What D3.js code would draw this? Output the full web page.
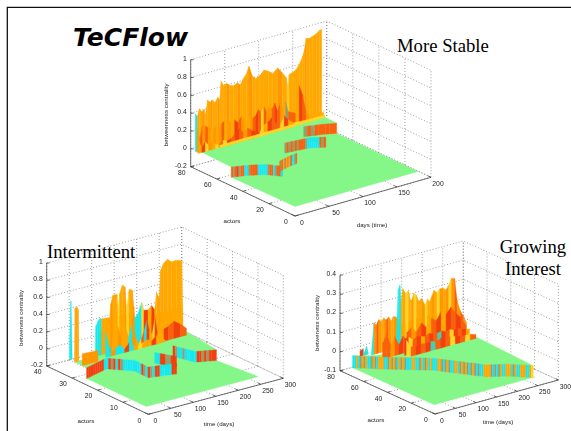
<!DOCTYPE html>
<html><head><meta charset="utf-8">
<script src="https://cdnjs.cloudflare.com/ajax/libs/d3/7.8.5/d3.min.js"></script>
<style>html,body{margin:0;padding:0;background:#fff}svg{display:block}</style></head>
<body><svg id="c" width="571" height="431"></svg>
<script>
// ---------- colour classes ----------
const palette = {O:'#ffa800',o:'#ff9800',R:'#f9620c',r:'#f2400e',C:'#16e8ee',Y:'#ffd626',G:'#84f788',M:'#93a06c',T:'#48cdb0'};

// ---------- tick labels ----------
const zTicksA = [-0.2,0,0.2,0.4,0.6,0.8,1];
const zTicksB = [-0.1,0,0.1,0.2,0.3,0.4];
const actorTicks80 = [0,20,40,60,80];
const actorTicks40 = [0,10,20,30,40];
const dayTicks200 = [0,50,100,150,200];
const dayTicks300 = [0,50,100,150,200,250,300];

// ---------- top panel (More Stable) ----------
const p1WallDays = [0,3,6,10,13,15,18,22,25,29,33,36,38,42,46,50,56,62,66,70,75,79,84,89,95,101,108,114,121,128,134,136,138,143,148,153,158,161,163,168,172,178,183,186];
const p1WallPeak = [.42,.38,.46,.42,.44,.38,.53,.50,.52,.48,.53,.50,.70,.64,.66,.63,.61,.63,.60,.65,.70,.78,.66,.62,.64,.69,.66,.62,.67,.60,.53,.42,.56,.57,.59,.64,.72,.80,.91,.90,.91,.93,.96,.96];
const p1WallCode = 'COOoOOOoOOoOOOoOOoOOOoOOOOOOoOOYOOOOOoOOOOOO';
const p1MidDays = [0,4,8,12,16,20,24,28,32,36,40,45,50,55,60,65,70,74,78,82,86,90,94,98,102,106,110,114,118,122,126,130,134,145,150,155,160,165,172,186];
const p1MidPeak = [.26,.14,.28,.26,.24,.22,.20,.22,.18,.24,.26,.25,.22,.24,.20,.26,.18,.20,.24,.20,.22,.28,.24,.30,.22,.28,.24,.30,.20,.28,.22,.28,.16,.12,.42,.30,.10,.06,.05,.04];
const p1MidCode = 'oRoRoOoOoROoOrRoOOoRrRYRooRrRoOMROrRoOOO';
const p1LowDays = [0,5,10,15,20,25,30,36,42,48,54,60,66,72,78,84,90,96,102,108,114,120,126,132,140,160,186];
const p1LowPeak = [.14,.04,.10,.05,.08,.04,.02,.06,.04,.05,.10,.14,.08,.12,.08,.05,.03,.10,.12,.16,.08,.04,.14,.08,.03,.02,.02];
const p1LowCode = 'OrYoOYRYrRrRoRrrYOrRRYrOYY';
const p1SkirtDays = [30,140];
const p1SkirtPeak = [.02,.02];
const p1SkirtCode = 'Y';
const p1StairADays = [2,23,38,51];
const p1StairAActors = [50,46.5,42.8,36];
const p1StairACode = 'RMRrMRRCCMRRRRCCCCCMRRCMRRC';
const p1StairBDays = [58,75,89];
const p1StairBActors = [42,44,45];
const p1StairBCode = 'RMROMROROMRCCMR';
const p1StairCDays = [98,131,147];
const p1StairCActors = [59,57,53];
const p1StairCCode = 'MRMRMRMRRRMCCCCCCRMR';
const p1StairDDays = [147,169,184];
const p1StairDActors = [70,67,64];
const p1StairDCode = 'MRMRRRRRR';
const p1BackDays = [185,4];
const p1BackActors = [75,75];

// ---------- lower-left panel (Intermittent) ----------
const p2SpikeDays = [0,3,6];
const p2SpikePeak = [.20,.68,0];
const p2SpikeCode = 'CC';
const p2FillDays = [56,80,100,125,134,150,170,190,240];
const p2FillPeak = [.25,.40,.40,.38,.25,.28,.30,.30,.30];
const p2FillCode = 'OOOOOoOO';
const p2WallDays = [0,1,6,8,9,45,47,51,56,60,78,80,85,94,96,100,106,112,115,121,128,134,141,149,154,163,171,178,182,188,191,197,206,215,226,238,241];
const p2WallPeak = [0,.63,.63,.60,0,0,.35,.40,.43,.42,.41,.56,.66,.66,.47,.66,.75,.72,.45,.68,.66,.33,.37,.49,.39,.38,.42,.36,.56,.48,.80,.87,.91,.87,.87,.85,.02];
const p2WallCode = 'oOOoGGCCCOOoOOYOOoYOoCCYrOrOOoOOOOOOO';
const p2MidDays = [60,68,74,80,88,96,104,112,120,128,134,140,146,152,158,164,170,176,182,190,200,212,226,240];
const p2MidPeak = [.30,.10,.08,.38,.30,.14,.28,.16,.30,.12,.04,.10,.18,.30,.16,.12,.30,.10,.22,.14,.16,.20,.15,.08];
const p2MidCode = 'CTOOoOOCoOYRCrOYrOOrRrR';
const p2LowDays = [60,70,80,90,100,110,120,130,140,150,160,170,180,190];
const p2LowPeak = [.06,.04,.08,.10,.04,.10,.06,.03,.06,.08,.05,.10,.06,.02];
const p2LowCode = 'CoCCrCOYOOrOO';
const p2PlateauDays = [0,35];
const p2PlateauPeak = [.14,.13];
const p2PlateauCode = 'o';
const p2StairADays = [0,57,91,90,142];
const p2StairAActors = [24.3,26.6,21.4,16,14];
const p2StairACode = 'rrrrrrrrCCrMrCrMCCCCCCCCrMCrMCrrCCCCCrr';
const p2StairBDays = [143,162];
const p2StairBActors = [22.8,17.6];
const p2StairBCode = 'CrMr';
const p2StairCDays = [189,203,239];
const p2StairCActors = [23.8,17.6,15.5];
const p2StairCCode = 'rMCCMCCCCCrrMrMrrr';
const p2BackDays = [250,1];
const p2BackActors = [29,29];

// ---------- lower-right panel (Growing Interest) ----------
const p3FillDays = [84,120,160,200,240];
const p3FillPeak = [.14,.15,.15,.15,.06];
const p3FillCode = 'oooo';
const p3BackMtnDays = [78,84,88,91,95,102,109,113,117,122,128,134,141,149,155,160,166,171,178,185,193,200,207,213,221,227,235,243,250];
const p3BackMtnPeak = [.02,.33,.352,.26,.33,.30,.314,.26,.257,.29,.276,.24,.251,.212,.24,.222,.25,.276,.26,.275,.273,.26,.282,.313,.308,.191,.13,.095,.06];
const p3BackMtnCode = 'CCCOOYOOoYOOoYOOoOYoOoYoRoRo';
const p3LeftMtnDays = [36,42,48,54,60,66,72,78,84,90,99,107];
const p3LeftMtnPeak = [.01,.165,.15,.175,.16,.177,.16,.175,.15,.17,.158,.12];
const p3LeftMtnCode = 'CoRoOoRoOoO';
const p3LeftRedDays = [40,50,60,70,80,90,100,112];
const p3LeftRedPeak = [.08,.12,.06,.10,.05,.09,.06,.02];
const p3LeftRedCode = 'RRoRrRo';
const p3TinyDays = [14,22,24,30,34];
const p3TinyPeak = [.03,.035,.01,.045,.01];
const p3TinyCode = 'rCTC';
const p3TerATDays = [85,95,105,115,125,135,145,155,165,175,185,195,205,215,225,235,243];
const p3TerATPeak = [.086,.09,.07,.08,.075,.07,.08,.07,.07,.075,.065,.07,.06,.065,.055,.05,.045];
const p3TerATCode = 'rYRrORrRTrRYrRrO';
const p3TerBDays = [81,92,104,116,128,140,152,164,176,188,200,212,224,236,250];
const p3TerBPeak = [.09,.05,.045,.05,.045,.05,.04,.05,.04,.045,.04,.035,.03,.03,.02];
const p3TerBCode = 'YRrRrTRrRYrRYR';
const p3MtnLowDays = [100,112,124,136,148,160,172,184,196,208,220,232,245];
const p3MtnLowPeak = [.10,.12,.09,.13,.10,.14,.12,.16,.14,.17,.13,.10,.05];
const p3MtnLowCode = 'RoRrORrOrRrR';
const p3StairDays = [0,47,114,173,206,241];
const p3StairActors = [69.4,56.9,41,16.3,11,0.7];
const p3StairCode = 'CCOCMOMOCCMOMCOOOCCMOMOMCOMOMCCCOOCCMOCMOCOCCCOOMCMOMCCOOCMOMOMCMOMCMCCOOOOMCMCMOCCOOOCMOCCOOOCCOY';
const p3BackDays = [250,121,40,0];
const p3BackActors = [51,57,62,69];

// ---------- titles ----------
const labels = {
  head:'TeCFlow', stable:'More Stable', inter:'Intermittent', grow1:'Growing', grow2:'Interest',
  bc1:'betweenness centrality', bc2:'betweness centrality', actors:'actors', days:'days (time)', time:'time (days)'
};

// ---------- panel layout ----------
const panels = [
 {o:[295,216],dEnd:[431,177.3],aEnd:[190.7,166.7],zH:107,dMax:200,aMax:80,zDom:[-.2,1],zT:zTicksA,aT:actorTicks80,dT:dayTicks200,
  front:{d:[4,185],a:[2,75],z:-.115},
  back:{d:p1BackDays,a:p1BackActors},
  ridges:[
   {a:76.5,d:p1WallDays,z:p1WallPeak,c:p1WallCode},
   {a:75,d:p1MidDays,z:p1MidPeak,c:p1MidCode},
   {a:74,d:p1LowDays,z:p1LowPeak,c:p1LowCode},
   {a:73.5,d:p1SkirtDays,z:p1SkirtPeak,c:p1SkirtCode}],
  stairs:[
   {d:p1StairDDays,a:p1StairDActors,c:p1StairDCode},
   {d:p1StairCDays,a:p1StairCActors,c:p1StairCCode},
   {d:p1StairADays,a:p1StairAActors,c:p1StairACode},
   {d:p1StairBDays,a:p1StairBActors,c:p1StairBCode}],
  stairOrder:[2,3,1,0],stairTop:0,
  zTitle:[168,115,labels.bc1], aTitle:[232,223], dTitle:[372,227,labels.days], ridgeBase:-.01},
 {o:[148.3,414.3],dEnd:[283.3,378.3],aEnd:[46.7,366],zH:103,dMax:300,aMax:40,zDom:[-.2,1],zT:zTicksA,aT:actorTicks40,dT:dayTicks300,
  front:{d:[1,250],a:[1,29],z:-.125},
  back:{d:p2BackDays,a:p2BackActors},
  ridges:[
   {a:31,d:p2SpikeDays,z:p2SpikePeak,c:p2SpikeCode},
   {a:29.2,d:p2FillDays,z:p2FillPeak,c:p2FillCode},
   {a:29,d:p2WallDays,z:p2WallPeak,c:p2WallCode},
   {a:27.5,d:p2MidDays,z:p2MidPeak,c:p2MidCode},
   {a:27,d:p2LowDays,z:p2LowPeak,c:p2LowCode},
   {a:26,d:p2PlateauDays,z:p2PlateauPeak,c:p2PlateauCode}],
  stairs:[
   {d:p2StairCDays,a:p2StairCActors,c:p2StairCCode},
   {d:p2StairBDays,a:p2StairBActors,c:p2StairBCode},
   {d:p2StairADays,a:p2StairAActors,c:p2StairACode}],
  stairOrder:[2,1,0],stairTop:0,
  zTitle:[23,318,labels.bc2], aTitle:[86,423], dTitle:[219,426,labels.time], ridgeBase:0},
 {o:[435,414],dEnd:[558.3,380],aEnd:[340,370.7],zH:95.7,dMax:300,aMax:80,zDom:[-.1,.4],zT:zTicksB,aT:actorTicks80,dT:dayTicks300,
  front:{d:[1,247],a:[1,69],z:-.055},
  back:{d:p3BackDays,a:p3BackActors},
  ridges:[
   {a:68,d:p3TinyDays,z:p3TinyPeak,c:p3TinyCode},
   {a:66,d:p3LeftMtnDays,z:p3LeftMtnPeak,c:p3LeftMtnCode},
   {a:60.5,d:p3FillDays,z:p3FillPeak,c:p3FillCode},
   {a:60,d:p3BackMtnDays,z:p3BackMtnPeak,c:p3BackMtnCode},
   {a:58.5,d:p3MtnLowDays,z:p3MtnLowPeak,c:p3MtnLowCode},
   {a:58,d:p3LeftRedDays,z:p3LeftRedPeak,c:p3LeftRedCode},
   {a:55,d:p3TerATDays,z:p3TerATPeak,c:p3TerATCode},
   {a:52,d:p3TerBDays,z:p3TerBPeak,c:p3TerBCode}],
  stairs:[{d:p3StairDays,a:p3StairActors,c:p3StairCode}],
  stairOrder:[0],stairTop:.008,
  zTitle:[319,323,labels.bc2], aTitle:[376,422], dTitle:[498,424,labels.time], ridgeBase:0}
];

// ---------- drawing ----------
const svg = d3.select('#c');
const defs = svg.append('defs');
defs.append('filter').attr('id','soft').attr('x','-5%').attr('y','-5%').attr('width','110%').attr('height','110%')
  .append('feGaussianBlur').attr('stdDeviation',.65);
defs.append('filter').attr('id','softer').append('feGaussianBlur').attr('stdDeviation',.28);
svg.append('rect').attr('width',571).attr('height',431).attr('fill','#fff');

svg.append('path').attr('d',d3.line()([[571,7.3],[7.3,7.3],[7.3,431]])).attr('fill','none').attr('stroke','#111').attr('stroke-width',1.3);

const line = d3.line();
panels.forEach(p=>{
  const sxD=d3.scaleLinear([0,p.dMax],[0,p.dEnd[0]-p.o[0]]), syD=d3.scaleLinear([0,p.dMax],[0,p.dEnd[1]-p.o[1]]);
  const sxA=d3.scaleLinear([0,p.aMax],[0,p.aEnd[0]-p.o[0]]), syA=d3.scaleLinear([0,p.aMax],[0,p.aEnd[1]-p.o[1]]);
  const syZ=d3.scaleLinear(p.zDom,[0,-p.zH]);
  const P=(d,a,z)=>[p.o[0]+sxD(d)+sxA(a),p.o[1]+syD(d)+syA(a)+syZ(z)];
  const z0=p.zDom[0], z1=p.zDom[1];
  const g=svg.append('g');
  const grid=g.append('g').attr('fill','none').attr('stroke','#777').attr('stroke-width',.7).attr('stroke-dasharray','1 2');
  const gl=(pts)=>grid.append('path').attr('d',line(pts));
  p.zT.forEach(z=>{gl([P(0,p.aMax,z),P(p.dMax,p.aMax,z),P(p.dMax,0,z)]);});
  p.dT.forEach(d=>{gl([P(d,p.aMax,z0),P(d,p.aMax,z1)]);gl([P(d,p.aMax,z0),P(d,0,z0)]);});
  p.aT.forEach(a=>{gl([P(p.dMax,a,z0),P(p.dMax,a,z1)]);gl([P(p.dMax,a,z0),P(0,a,z0)]);});

  const surf=g.append('g').attr('filter','url(#soft)');
  const poly=(pts,fill)=>surf.append('path').attr('d',line(pts)+'Z').attr('fill',fill).attr('stroke',fill).attr('stroke-width',.35);
  const f=p.front;
  // lower floor stops at the stair line, upper floor starts there
  const stairKnots=[];
  p.stairOrder.forEach(i=>{const s=p.stairs[i];s.d.forEach((d,k)=>stairKnots.push([d,s.a[k]]));});
  poly([P(f.d[0],f.a[0],f.z),P(f.d[1],f.a[0],f.z),...stairKnots.slice().reverse().map(k=>P(k[0],k[1],f.z))],palette.G);
  poly([...stairKnots.map(k=>P(k[0],k[1],p.stairTop)),...p.back.d.map((d,k)=>P(d,p.back.a[k],p.stairTop))],palette.G);
  p.ridges.forEach(r=>{
    for(let i=0;i<r.d.length-1;i++){
      poly([P(r.d[i],r.a,p.ridgeBase),P(r.d[i],r.a,r.z[i]),P(r.d[i+1],r.a,r.z[i+1]),P(r.d[i+1],r.a,p.ridgeBase)],palette[r.c[i]]||palette.O);
    }
  });
  p.stairs.forEach(s=>{
    const cum=[0];for(let i=1;i<s.d.length;i++){const u=P(s.d[i],s.a[i],0),v=P(s.d[i-1],s.a[i-1],0);cum.push(cum[i-1]+Math.hypot(u[0]-v[0],u[1]-v[1]));}
    const td=d3.scaleLinear(cum,s.d), ta=d3.scaleLinear(cum,s.a);
    const n=s.c.length,L=cum[cum.length-1];
    for(let i=0;i<n;i++){
      const t0=L*i/n,t1=L*(i+1)/n;
      const kn=[t0,...cum.filter(c=>c>t0&&c<t1),t1];
      const top=kn.map(t=>P(td(t),ta(t),p.stairTop)), bot=kn.map(t=>P(td(t),ta(t),f.z)).reverse();
      poly([...top,...bot],palette[s.c[i]]);
    }
  });

  const ax=g.append('g').attr('fill','none').attr('stroke','#333').attr('stroke-width',.7);
  ax.append('path').attr('d',line([P(0,p.aMax,z1),P(0,p.aMax,z0),P(0,0,z0),P(p.dMax,0,z0)]));
  const txt=g.append('g').attr('font-family','"Liberation Sans",Arial,sans-serif').attr('fill','#222').attr('filter','url(#softer)');
  p.zT.forEach(z=>{
    const q=P(0,p.aMax,z);
    ax.append('path').attr('d',line([q,[q[0]+3,q[1]]]));
    txt.append('text').attr('x',q[0]-4).attr('y',q[1]+1.2).attr('text-anchor','end').attr('font-size',6.8).text(z);
  });
  p.aT.forEach(a=>{
    const q=P(0,a,z0),r=P(2.5*p.dMax/100,a,z0);
    ax.append('path').attr('d',line([q,r]));
    txt.append('text').attr('x',q[0]-9).attr('y',q[1]+8.2).attr('text-anchor','middle').attr('font-size',6.8).text(a);
  });
  p.dT.forEach(d=>{
    const q=P(d,0,z0),r=P(d,p.aMax*.03,z0);
    ax.append('path').attr('d',line([q,r]));
    txt.append('text').attr('x',q[0]+7).attr('y',q[1]+8.5).attr('text-anchor','middle').attr('font-size',6.8).text(d);
  });
  txt.append('text').attr('transform',`translate(${p.zTitle[0]},${p.zTitle[1]}) rotate(-90)`).attr('text-anchor','middle').attr('font-size',6.2).text(p.zTitle[2]);
  txt.append('text').attr('x',p.aTitle[0]).attr('y',p.aTitle[1]).attr('text-anchor','middle').attr('font-size',6.2).text(labels.actors);
  txt.append('text').attr('x',p.dTitle[0]).attr('y',p.dTitle[1]).attr('text-anchor','middle').attr('font-size',6.2).text(p.dTitle[2]);
});

const serif=(t,x,y,anchor)=>svg.append('text').attr('x',x).attr('y',y).attr('text-anchor',anchor).attr('font-family','"Liberation Serif",serif').attr('font-size',18.7).attr('fill','#000').text(t);
svg.append('text').attr('x',73).attr('y',46).attr('font-family','"DejaVu Sans",sans-serif').attr('font-weight','bold').attr('font-style','italic').attr('font-size',25).attr('fill','#000').text(labels.head);
serif(labels.stable,397,52,'start');
serif(labels.inter,47,258,'start');
serif(labels.grow1,533,253,'middle');
serif(labels.grow2,533,275,'middle');
</script></body></html>
